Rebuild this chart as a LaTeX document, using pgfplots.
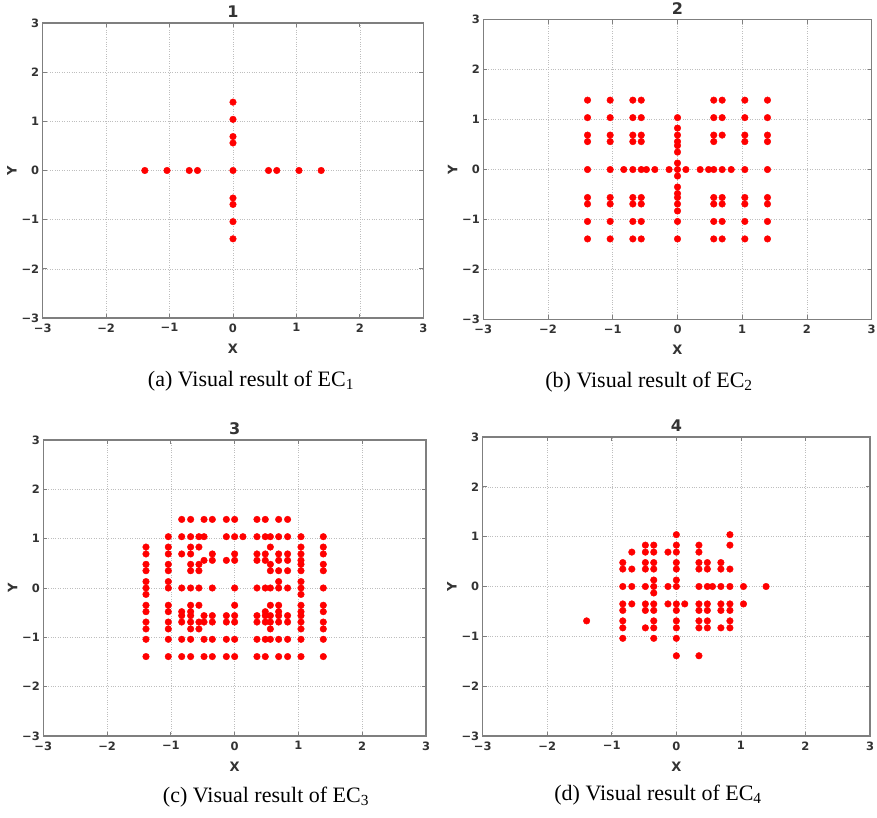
\documentclass[border=0pt]{standalone}
\usepackage{fontspec}
\setmainfont{Liberation Serif}
\newfontfamily\vera{DejaVu Sans}
\usepackage{pgfplots}
\pgfplotsset{compat=1.18}
\definecolor{framegray}{HTML}{7F7F7F}
\definecolor{gridgray}{HTML}{BEBEBE}
\definecolor{ticktext}{HTML}{333333}
\pgfplotsset{
 ecstyle/.style={
  scale only axis, anchor=south west,
  xmin=-3,xmax=3,ymin=-3,ymax=3,
  xtick={-3,-2,-1,0,1,2,3}, ytick={-3,-2,-1,0,1,2,3},
  xticklabels={−3,−2,−1,0,1,2,3}, yticklabels={−3,−2,−1,0,1,2,3},
  grid=major, grid style={gridgray, dotted, line width=0.6pt},
  axis line style={framegray, line width=1.3pt},
  tick align=inside, major tick length=4pt, tick style={framegray, line width=0.8pt},
  tick label style={font=\vera\bfseries\fontsize{11.5}{12}\selectfont, text=ticktext},
  xticklabel shift=2pt,
  xlabel={X}, ylabel={Y},
  xlabel shift=5pt, ylabel shift=-2pt,
  label style={font=\vera\bfseries\fontsize{13}{14}\selectfont, text=ticktext},
  title style={font=\vera\bfseries\fontsize{16}{17}\selectfont, text=ticktext, yshift=-4pt},
  /pgf/number format/assume math mode=true,
 },
 pts/.style={only marks, mark=*, mark size=3.3pt, color=red, mark options={fill=red, draw=red}},
}
\begin{document}
\begin{tikzpicture}
\useasboundingbox (0,0) rectangle (877pt,818pt);
% Panel 1
\begin{axis}[ecstyle, at={(42.7pt,500pt)}, width=380.6pt, height=295pt, title={1}]
\addplot[pts] coordinates {(-1.39,0) (-1.04,0) (-0.69,0) (-0.56,0) (0,0) (0.56,0) (0.69,0) (1.04,0) (1.39,0)
 (0,1.39) (0,1.04) (0,0.69) (0,0.56) (0,-0.56) (0,-0.69) (0,-1.04) (0,-1.39)};
\end{axis}
% Panel 2
\begin{axis}[ecstyle, at={(483.3pt,498.7pt)}, width=388.4pt, height=299.5pt, title={2}]
\addplot[pts] coordinates {
 (-1.39,1.39) (-1.04,1.39) (-0.69,1.39) (-0.56,1.39) (0.56,1.39) (0.69,1.39) (1.04,1.39) (1.39,1.39)
 (-1.39,1.04) (-1.04,1.04) (-0.69,1.04) (-0.56,1.04) (0,1.04) (0.56,1.04) (0.69,1.04) (1.04,1.04) (1.39,1.04)
 (-1.39,0.69) (-1.04,0.69) (-0.69,0.69) (-0.56,0.69) (0.56,0.69) (0.69,0.69) (1.04,0.69) (1.39,0.69)
 (-1.39,0.56) (-1.04,0.56) (-0.69,0.56) (-0.56,0.56) (0.56,0.56) (1.04,0.56) (1.39,0.56)
 (-1.39,-0.56) (-1.04,-0.56) (-0.69,-0.56) (-0.56,-0.56) (0.56,-0.56) (0.69,-0.56) (1.04,-0.56) (1.39,-0.56)
 (-1.39,-0.69) (-1.04,-0.69) (-0.69,-0.69) (-0.56,-0.69) (0.56,-0.69) (0.69,-0.69) (1.04,-0.69) (1.39,-0.69)
 (-1.39,-1.04) (-1.04,-1.04) (-0.69,-1.04) (-0.56,-1.04) (0,-1.04) (0.56,-1.04) (0.69,-1.04) (1.04,-1.04) (1.39,-1.04)
 (-1.39,-1.39) (-1.04,-1.39) (-0.69,-1.39) (-0.56,-1.39) (0,-1.39) (0.56,-1.39) (0.69,-1.39) (1.04,-1.39) (1.39,-1.39)
 (-1.39,0) (-1.04,0) (-0.83,0) (-0.69,0) (-0.56,0) (-0.48,0) (-0.35,0) (-0.13,0) (0,0) (0.13,0) (0.35,0) (0.48,0) (0.56,0) (0.69,0) (0.83,0) (1.04,0) (1.39,0)
 (0,0.83) (0,0.69) (0,0.56) (0,0.48) (0,0.35) (0,0.13) (0,-0.13) (0,-0.35) (0,-0.48) (0,-0.56) (0,-0.69) (0,-0.83)
};
\end{axis}
% Panel 3
\begin{axis}[ecstyle, at={(43.3pt,82pt)}, width=382.7pt, height=296pt, title={3}]
\addplot[pts] coordinates {
 (-0.83,1.39) (-0.69,1.39) (-0.48,1.39) (-0.35,1.39) (-0.13,1.39) (0,1.39) (0.35,1.39) (0.48,1.39) (0.69,1.39) (0.83,1.39)
 (-1.04,1.04) (-0.83,1.04) (-0.69,1.04) (-0.56,1.04) (-0.48,1.04) (-0.13,1.04) (0,1.04) (0.13,1.04) (0.35,1.04) (0.48,1.04) (0.56,1.04) (0.69,1.04) (0.83,1.04) (1.04,1.04) (1.39,1.04)
 (-1.39,0.83) (-1.04,0.83) (-0.69,0.83) (-0.56,0.83) (0.56,0.83) (1.04,0.83) (1.39,0.83)
 (-1.39,0.69) (-1.04,0.69) (-0.83,0.69) (-0.69,0.69) (-0.35,0.69) (0,0.69) (0.35,0.69) (0.48,0.69) (0.69,0.69) (0.83,0.69) (1.04,0.69) (1.39,0.69)
 (-0.48,0.56) (-0.35,0.56) (-0.13,0.56) (0,0.56) (0.35,0.56) (0.48,0.56) (0.69,0.56) (0.83,0.56) (1.04,0.56)
 (-1.39,0.48) (-1.04,0.48) (-0.69,0.48) (-0.56,0.48) (0.56,0.48) (1.04,0.48) (1.39,0.48)
 (-1.39,0.35) (-1.04,0.35) (-0.69,0.35) (-0.56,0.35) (0.56,0.35) (0.69,0.35) (0.83,0.35) (1.04,0.35) (1.39,0.35)
 (-1.39,0.13) (-1.04,0.13) (0.69,0.13) (1.04,0.13)
 (-1.39,0) (-1.04,0) (-0.83,0) (-0.69,0) (-0.56,0) (-0.35,0) (0,0) (0.35,0) (0.48,0) (0.56,0) (0.69,0) (0.83,0) (1.04,0) (1.39,0)
 (-1.39,-0.13) (1.04,-0.13)
 (-1.39,-0.35) (-1.04,-0.35) (-0.69,-0.35) (-0.56,-0.35) (0,-0.35) (0.56,-0.35) (0.69,-0.35) (1.04,-0.35) (1.39,-0.35)
 (-1.39,-0.48) (-1.04,-0.48) (-0.83,-0.48) (-0.69,-0.48) (0.48,-0.48) (0.69,-0.48) (1.04,-0.48) (1.39,-0.48)
 (-0.83,-0.56) (-0.69,-0.56) (-0.48,-0.56) (-0.35,-0.56) (-0.13,-0.56) (0,-0.56) (0.35,-0.56) (0.48,-0.56) (0.56,-0.56) (0.69,-0.56) (0.83,-0.56) (1.04,-0.56)
 (-1.39,-0.69) (-1.04,-0.69) (-0.83,-0.69) (-0.69,-0.69) (-0.56,-0.69) (-0.48,-0.69) (-0.35,-0.69) (-0.13,-0.69) (0,-0.69) (0.35,-0.69) (0.48,-0.69) (0.56,-0.69) (0.69,-0.69) (0.83,-0.69) (1.04,-0.69) (1.39,-0.69)
 (-1.39,-0.83) (-1.04,-0.83) (-0.69,-0.83) (-0.56,-0.83) (0.56,-0.83) (1.04,-0.83) (1.39,-0.83)
 (-1.39,-1.04) (-1.04,-1.04) (-0.83,-1.04) (-0.69,-1.04) (-0.48,-1.04) (-0.35,-1.04) (-0.13,-1.04) (0,-1.04) (0.35,-1.04) (0.48,-1.04) (0.56,-1.04) (0.69,-1.04) (0.83,-1.04) (1.04,-1.04) (1.39,-1.04)
 (-1.39,-1.39) (-1.04,-1.39) (-0.83,-1.39) (-0.69,-1.39) (-0.48,-1.39) (-0.35,-1.39) (-0.13,-1.39) (0,-1.39) (0.35,-1.39) (0.48,-1.39) (0.69,-1.39) (0.83,-1.39) (1.04,-1.39) (1.39,-1.39)
};
\end{axis}
% Panel 4
\begin{axis}[ecstyle, at={(482.7pt,82pt)}, width=387.3pt, height=299pt, title={4}]
\addplot[pts] coordinates {
 (0,1.04) (0.83,1.04)
 (-0.48,0.83) (-0.35,0.83) (0,0.83) (0.35,0.83) (0.83,0.83)
 (-0.69,0.69) (-0.48,0.69) (-0.35,0.69) (-0.13,0.69) (0,0.69) (0.35,0.69)
 (-0.83,0.48) (-0.48,0.48) (-0.35,0.48) (0,0.48) (0.35,0.48) (0.48,0.48) (0.69,0.48)
 (-0.83,0.35) (-0.69,0.35) (-0.48,0.35) (-0.35,0.35) (0,0.35) (0.35,0.35) (0.48,0.35) (0.69,0.35) (0.83,0.35)
 (-0.35,0.13) (0,0.13)
 (-0.83,0) (-0.69,0) (-0.48,0) (-0.35,0) (-0.13,0) (0,0) (0.35,0) (0.48,0) (0.56,0) (0.69,0) (0.83,0) (1.04,0) (1.39,0)
 (-0.35,-0.13)
 (-0.83,-0.35) (-0.69,-0.35) (-0.48,-0.35) (-0.35,-0.35) (-0.13,-0.35) (0,-0.35) (0.13,-0.35) (0.35,-0.35) (0.48,-0.35) (0.69,-0.35) (0.83,-0.35) (1.04,-0.35)
 (-0.83,-0.48) (-0.48,-0.48) (-0.35,-0.48) (0,-0.48) (0.35,-0.48) (0.48,-0.48) (0.69,-0.48) (0.83,-0.48)
 (-1.39,-0.69)
 (-0.83,-0.69) (-0.35,-0.69) (0,-0.69) (0.35,-0.69) (0.48,-0.69) (0.83,-0.69)
 (-0.83,-0.83) (-0.48,-0.83) (-0.35,-0.83) (0,-0.83) (0.35,-0.83) (0.48,-0.83) (0.69,-0.83) (0.83,-0.83)
 (-0.83,-1.04) (-0.35,-1.04) (0,-1.04)
 (0,-1.39) (0.35,-1.39)
};
\end{axis}
% captions
\node at (251pt,437pt) {\fontsize{22}{24}\selectfont (a) Visual result of EC\textsubscript{1}};
\node at (649pt,436pt) {\fontsize{22}{24}\selectfont (b) Visual result of EC\textsubscript{2}};
\node at (266pt,21pt) {\fontsize{22}{24}\selectfont (c) Visual result of EC\textsubscript{3}};
\node at (658pt,23pt) {\fontsize{22}{24}\selectfont (d) Visual result of EC\textsubscript{4}};
\end{tikzpicture}
\end{document}
